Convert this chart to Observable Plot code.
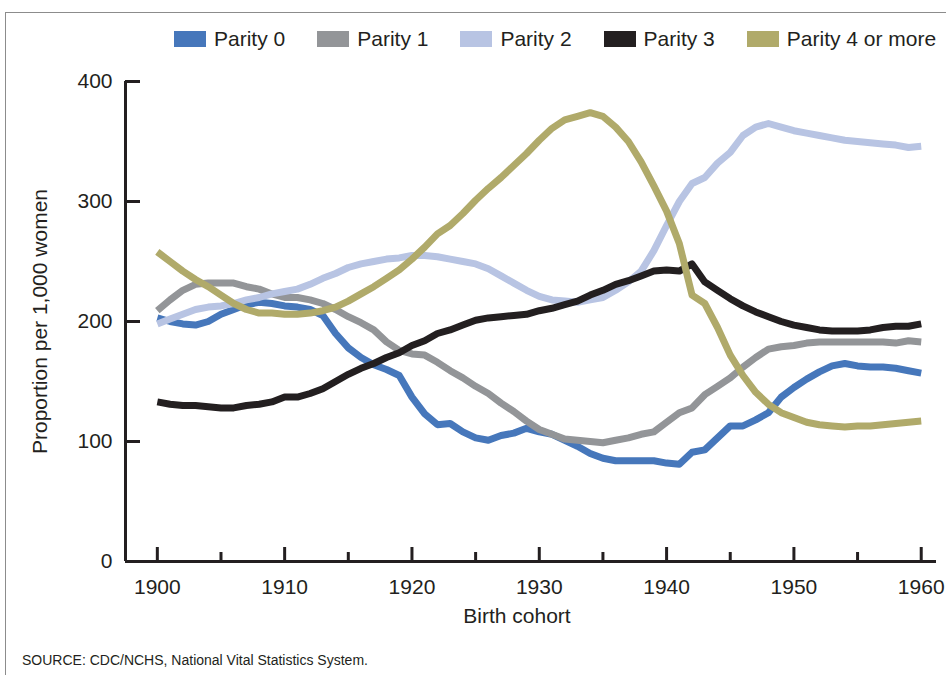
<!DOCTYPE html>
<html>
<head>
<meta charset="utf-8">
<script src="https://cdn.jsdelivr.net/npm/d3@7"></script>
<script src="https://cdn.jsdelivr.net/npm/@observablehq/plot@0.6"></script>
<style>
  html, body { margin: 0; padding: 0; background: #fff; }
  body { font-family: "Liberation Sans", Arial, Helvetica, sans-serif; color: #231f20; }
  #fig { position: relative; width: 946px; height: 675px; overflow: hidden; }
  #border { position: absolute; left: 5px; top: 12px; width: 960px; height: 700px;
            border-left: 1.5px solid #8c8c8c; border-top: 1.5px solid #8c8c8c; }
  #legend { position: absolute; left: 174px; top: 27px; display: flex; align-items: center;
            font-size: 21px; line-height: 24px; white-space: nowrap; }
  .item { display: flex; align-items: center; margin-right: 32px; }
  .sw { width: 32px; height: 16px; margin-right: 8px; }
  #plot { position: absolute; left: 0; top: 60px; }
  #source { position: absolute; left: 22px; top: 651px; font-size: 14px; line-height: 18px; }
</style>
</head>
<body>
<div id="fig">
  <div id="border"></div>
  <div id="legend"></div>
  <div id="plot"></div>
  <div id="source">SOURCE: CDC/NCHS, National Vital Statistics System.</div>
</div>
<script>
// ---- data ----
const years = [1900,1901,1902,1903,1904,1905,1906,1907,1908,1909,
  1910,1911,1912,1913,1914,1915,1916,1917,1918,1919,
  1920,1921,1922,1923,1924,1925,1926,1927,1928,1929,
  1930,1931,1932,1933,1934,1935,1936,1937,1938,1939,
  1940,1941,1942,1943,1944,1945,1946,1947,1948,1949,
  1950,1951,1952,1953,1954,1955,1956,1957,1958,1959,1960];

const seriesNames = ["Parity 0", "Parity 1", "Parity 2", "Parity 3", "Parity 4 or more"];
const seriesColors = ["#4677bb", "#939598", "#b8c4e3", "#231f20", "#b0aa6a"];

const parity0 = [203,200,198,197,200,206,210,214,216,215,
  213,212,210,205,190,178,170,164,160,155,
  137,123,114,115,108,103,101,105,107,111,
  108,106,101,96,90,86,84,84,84,84,
  82,81,91,93,103,113,113,118,124,137,
  145,152,158,163,165,163,162,162,161,159,157];

const parity1 = [209,218,226,231,232,232,232,229,227,223,
  220,220,218,215,210,204,199,193,183,176,
  173,172,166,159,153,146,140,132,125,117,
  110,106,102,101,100,99,101,103,106,108,
  116,124,128,139,146,153,162,170,177,179,
  180,182,183,183,183,183,183,183,182,184,183];

const parity2 = [198,202,206,210,212,213,215,218,220,223,
  225,227,231,236,240,245,248,250,252,253,
  255,255,254,252,250,248,244,238,232,226,
  221,218,217,216,218,220,226,233,242,259,
  280,300,315,320,332,341,355,362,365,362,
  359,357,355,353,351,350,349,348,347,345,346];

const parity3 = [133,131,130,130,129,128,128,130,131,133,
  137,137,140,144,150,156,161,165,170,174,
  180,184,190,193,197,201,203,204,205,206,
  209,211,214,217,222,226,231,234,238,242,
  243,242,248,233,226,219,213,208,204,200,
  197,195,193,192,192,192,193,195,196,196,198];

const parity4 = [258,250,242,235,229,222,215,210,207,207,
  206,206,207,209,212,217,223,229,236,243,
  252,262,273,280,290,301,311,320,330,340,
  351,361,368,371,374,371,362,350,333,313,
  292,265,222,215,195,172,155,141,131,124,
  120,116,114,113,112,113,113,114,115,116,117];

const yTicks = [0, 100, 200, 300, 400];
const xMajorTicks = [1900, 1910, 1920, 1930, 1940, 1950, 1960];
const xMinorTicks = [1905, 1915, 1925, 1935, 1945, 1955];

// ---- tidy table ----
const seriesValues = [parity0, parity1, parity2, parity3, parity4];
const data = [];
seriesNames.forEach((name, i) => {
  years.forEach((yr, j) => data.push({series: name, year: yr, value: seriesValues[i][j]}));
});

// ---- legend ----
const legend = document.getElementById("legend");
seriesNames.forEach((name, i) => {
  const it = document.createElement("div");
  it.className = "item";
  const sw = document.createElement("div");
  sw.className = "sw";
  sw.style.background = seriesColors[i];
  const t = document.createElement("span");
  t.textContent = name;
  it.appendChild(sw); it.appendChild(t);
  legend.appendChild(it);
});

// ---- chart ----
const ink = "#231f20";
const chart = Plot.plot({
  width: 946,
  height: 580,
  marginTop: 21,
  marginBottom: 79,
  marginLeft: 125,
  marginRight: 10,
  style: {fontFamily: '"Liberation Sans", Arial, Helvetica, sans-serif', fontSize: "21px", color: ink, background: "transparent"},
  x: {domain: [1897.5, 1961.2]},
  y: {domain: [0, 400]},
  color: {domain: seriesNames, range: seriesColors},
  marks: [
    Plot.axisY({ticks: yTicks, tickSize: -15, tickPadding: 28, strokeWidth: 3, label: null, fontSize: 21}),
    Plot.axisX({ticks: xMajorTicks, tickSize: -14, tickPadding: 32, strokeWidth: 3, tickFormat: d => String(d), label: null, fontSize: 21}),
    Plot.axisX({ticks: xMinorTicks, tickSize: -9, strokeWidth: 3, fill: "none", label: null}),
    Plot.ruleX([1897.5], {stroke: ink, strokeWidth: 3}),
    Plot.ruleY([0], {stroke: ink, strokeWidth: 3}),
    Plot.line(data, {x: "year", y: "value", z: "series", stroke: "series", strokeWidth: 7, strokeLinecap: "butt", strokeLinejoin: "round"}),
    Plot.text(["Birth cohort"], {frameAnchor: "bottom", dy: 61, dx: -14, fontSize: 21, fill: ink}),
    Plot.text(["Proportion per 1,000 women"], {frameAnchor: "left", textAnchor: "middle", lineAnchor: "middle", rotate: -90, dx: -85, fontSize: 21, fill: ink})
  ]
});
document.getElementById("plot").appendChild(chart);
</script>
</body>
</html>
